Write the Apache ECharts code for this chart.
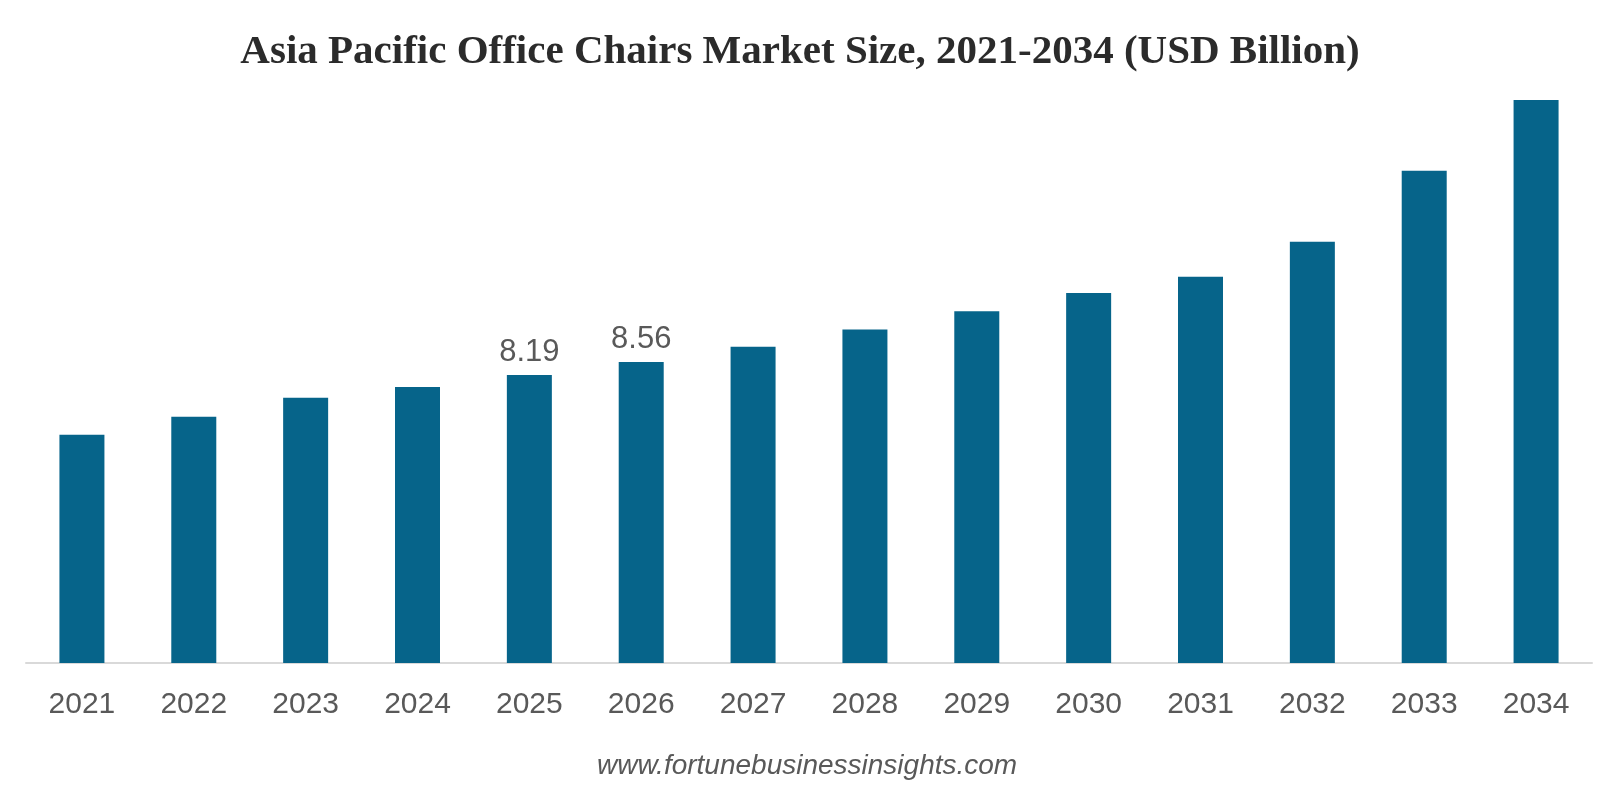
<!DOCTYPE html>
<html>
<head>
<meta charset="utf-8">
<title>Asia Pacific Office Chairs Market Size</title>
<script src="https://cdn.jsdelivr.net/npm/echarts@6/dist/echarts.min.js"></script>
<style>
  html, body { margin: 0; padding: 0; background: #fff; }
  #chart { width: 1600px; height: 796px; }
</style>
</head>
<body>
<div id="chart"></div>
<script>
// 数据
const years = ["2021", "2022", "2023", "2024", "2025", "2026", "2027",
  "2028", "2029", "2030", "2031", "2032", "2033", "2034"];
const marketSize = [6.49, 7.0, 7.54, 7.85, 8.19, 8.56, 8.99,
  9.48, 10.0, 10.52, 10.98, 11.98, 14.0, 16.01];
// only these years show a value label
const labelledYears = ["2025", "2026"];

const chart = echarts.init(document.getElementById("chart"));

const option = {
  backgroundColor: "#fff",
  title: {
    text: "Asia Pacific Office Chairs Market Size, 2021-2034 (USD Billion)",
    left: "center",
    top: 27,
    textStyle: {
      fontFamily: "Liberation Serif",
      fontWeight: "bold",
      fontSize: 41,
      color: "#2b2b2b",
    },
  },
  graphic: [
    {
      type: "text",
      left: 597,
      top: 752,
      style: {
        text: "www.fortunebusinessinsights.com",
        fontFamily: "Liberation Sans",
        fontStyle: "italic",
        fontSize: 28,
        fill: "#595959",
      },
    },
  ],
  grid: {
    left: 26,
    right: 8,
    top: 30,
    bottom: 133,
  },
  xAxis: {
    type: "category",
    data: years,
    axisLine: { lineStyle: { color: "#d9d9d9", width: 2 } },
    axisTick: { show: false },
    axisLabel: {
      color: "#595959",
      fontSize: 30,
      fontFamily: "Liberation Sans",
      margin: 27,
    },
  },
  yAxis: {
    type: "value",
    min: 0,
    max: 18,
    interval: 2,
    show: false,
    splitLine: { show: false },
  },
  series: [
    {
      type: "bar",
      barWidth: 45,
      itemStyle: { color: "#06648a" },
      data: marketSize.map((v, i) => ({
        value: v,
        label: { show: labelledYears.includes(years[i]) },
      })),
      label: {
        position: "top",
        distance: 7,
        color: "#595959",
        fontSize: 31,
        fontFamily: "Liberation Sans",
      },
    },
  ],
};

chart.setOption(option);
</script>
</body>
</html>
